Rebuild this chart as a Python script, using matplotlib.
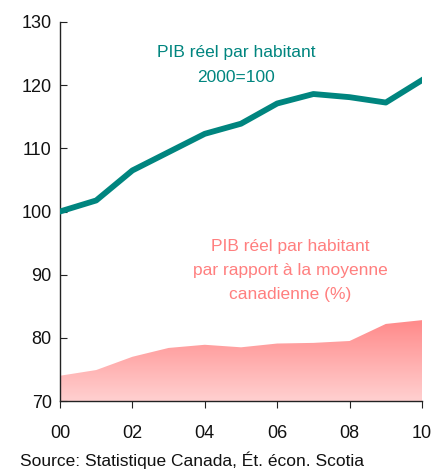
import numpy as np
import matplotlib
matplotlib.use("Agg")
import matplotlib.pyplot as plt
from matplotlib.colors import LinearSegmentedColormap

plt.rcParams['font.family'] = ['Liberation Sans', 'DejaVu Sans']

years = [0, 1, 2, 3, 4, 5, 6, 7, 8, 9, 10]
gdp_index = [100.0, 101.75, 106.5, 109.4, 112.3, 113.9, 117.1, 118.6, 118.1, 117.25, 120.8]
gdp_rel_canada = [74.0, 74.9, 77.0, 78.4, 78.9, 78.5, 79.1, 79.2, 79.5, 82.2, 82.8]
xtick_vals = [0, 2, 4, 6, 8, 10]
xtick_labels = ['00', '02', '04', '06', '08', '10']
ytick_vals = [70, 80, 90, 100, 110, 120, 130]

teal = '#00857f'
pink_text = '#ff7f7f'

fig = plt.figure(figsize=(4.34, 4.70), dpi=100)
ax = fig.add_axes([60/434, 1 - 401/470, (422-60)/434, (401-22)/470])

# gradient area
poly = ax.fill_between(years, 70, gdp_rel_canada, facecolor='none', edgecolor='none')
cmap = LinearSegmentedColormap.from_list('pk', ['#ffd0d0', '#ff8a8a'])
grad = np.linspace(0, 1, 256).reshape(-1, 1)
im = ax.imshow(grad, cmap=cmap, aspect='auto', origin='lower',
               extent=[0, 10, 70, max(gdp_rel_canada)], zorder=1)
path = poly.get_paths()[0]
im.set_clip_path(path, transform=ax.transData)

ax.plot(years, gdp_index, color=teal, lw=4.2, solid_joinstyle='round', zorder=3)

ax.set_xlim(0, 10)
ax.set_ylim(70, 130)
ax.set_xticks(xtick_vals)
ax.set_xticklabels(xtick_labels)
ax.set_yticks(ytick_vals)
for s in ['top', 'right']:
    ax.spines[s].set_visible(False)
for s in ['left', 'bottom']:
    ax.spines[s].set_linewidth(1.0)
    ax.spines[s].set_color('#222222')
ax.tick_params(axis='y', direction='in', length=5, labelsize=13, pad=6, colors='#222222')
ax.tick_params(axis='x', direction='out', length=5, labelsize=13, pad=12, colors='#222222')
for lbl in ax.get_yticklabels() + ax.get_xticklabels():
    lbl.set_color('#111111')

fig.text(236/434, 1 - 65/470, 'PIB réel par habitant\n2000=100', ha='center', va='center',
         color=teal, fontsize=12.5, linespacing=1.75)
fig.text(290/434, 1 - 271/470, 'PIB réel par habitant\npar rapport à la moyenne\ncanadienne (%)',
         ha='center', va='center', color=pink_text, fontsize=12.5, linespacing=1.75)
fig.text(20/434, 1 - 460/470, 'Source: Statistique Canada, Ét. écon. Scotia',
         ha='left', va='center', color='#111111', fontsize=12.5)

fig.savefig('out.png', dpi=100)
